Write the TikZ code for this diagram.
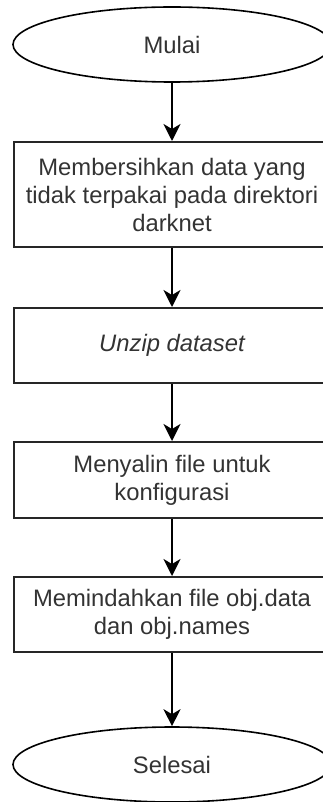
\documentclass[tikz,border=0pt]{standalone}
\usepackage{fontspec}
\setmainfont{Liberation Sans}
\usetikzlibrary{shapes.geometric,arrows.meta}
\begin{document}
\begin{tikzpicture}[x=1pt,y=1pt,
  every node/.style={font=\fontsize{23.8}{28}\selectfont, text=black!80, align=center},
  procbox/.style={draw=black!85, line width=2pt, rectangle, minimum width=316pt, minimum height=#1, inner sep=0pt},
  terminal/.style={draw=black, line width=1.6pt, ellipse, minimum width=318pt, minimum height=75pt, inner sep=0pt},
  flow/.style={draw=black, line width=2pt, -{Stealth[length=17pt,width=17pt,inset=5pt]}}
]
\useasboundingbox (0,0) rectangle (323,-802);
\node[terminal] (start) at (172,-44.5) {Mulai};
\node[procbox=105pt] (clean) at (172,-194.5) {Membersihkan data yang\\tidak terpakai pada direktori\\darknet};
\node[procbox=75pt] (unzip) at (172,-345.5) {\itshape Unzip dataset};
\node[procbox=76pt] (copy) at (172,-480) {Menyalin file untuk\\konfigurasi};
\node[procbox=75pt] (move) at (172,-614.5) {Memindahkan file obj.data\\dan obj.names};
\node[terminal] (stop) at (172,-764.5) {Selesai};
\draw[flow] (start.south) -- (clean.north);
\draw[flow] (clean.south) -- (unzip.north);
\draw[flow] (unzip.south) -- (copy.north);
\draw[flow] (copy.south) -- (move.north);
\draw[flow] (move.south) -- (stop.north);
\end{tikzpicture}
\end{document}
